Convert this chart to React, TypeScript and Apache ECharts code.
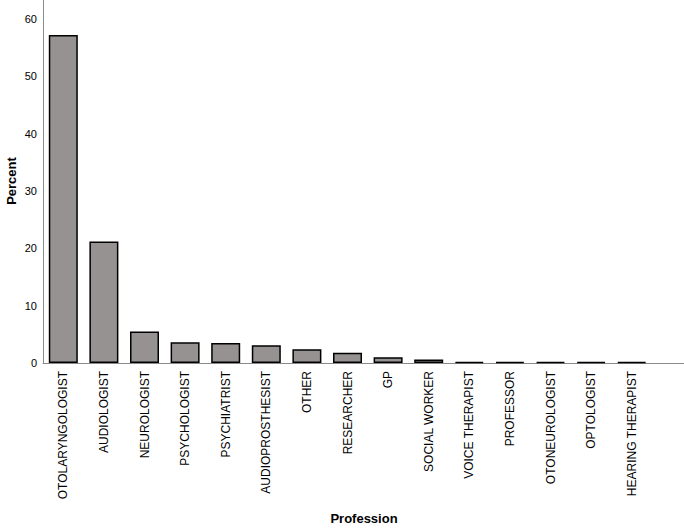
import React, { useEffect, useRef } from "react";
import * as echarts from "echarts";

const categories = [
  "OTOLARYNGOLOGIST",
  "AUDIOLOGIST",
  "NEUROLOGIST",
  "PSYCHOLOGIST",
  "PSYCHIATRIST",
  "AUDIOPROSTHESIST",
  "OTHER",
  "RESEARCHER",
  "GP",
  "SOCIAL WORKER",
  "VOICE THERAPIST",
  "PROFESSOR",
  "OTONEUROLOGIST",
  "OPTOLOGIST",
  "HEARING THERAPIST",
];
const percents = [57.2, 21.2, 5.5, 3.6, 3.5, 3.1, 2.4, 1.8, 1.0, 0.6, 0.2, 0.2, 0.2, 0.2, 0.2];
const yTicks = [0, 10, 20, 30, 40, 50, 60];
const xTitle = "Profession";
const yTitle = "Percent";

const titleFont = "Liberation Sans Narrow, Liberation Sans, Arial";

export default function App() {
  const ref = useRef<HTMLDivElement>(null);
  useEffect(() => {
    const chart = echarts.init(ref.current!, null, { renderer: "svg" });
    chart.setOption({
      animation: false,
      backgroundColor: "#ffffff",
      grid: { left: 43, right: 32, top: 0, bottom: 168, containLabel: false, outerBoundsMode: "none" },
      xAxis: {
        type: "category",
        data: categories,
        axisLine: { lineStyle: { color: "#8a8a8a", width: 1 } },
        axisTick: { show: false },
        axisLabel: {
          rotate: 90,
          margin: 8,
          fontFamily: "Liberation Sans, Arial",
          fontSize: 12,
          color: "#000",
          interval: 0,
        },
      },
      yAxis: {
        type: "value",
        min: 0,
        max: 63.3,
        interval: 10,
        axisLine: { show: true, lineStyle: { color: "#8a8a8a", width: 1 } },
        axisTick: { show: false },
        splitLine: { show: false },
        axisLabel: {
          margin: 6,
          showMaxLabel: false,
          fontFamily: titleFont,
          fontSize: 11,
          color: "#000",
          formatter: (v: number) => (yTicks.includes(v) ? String(v) : ""),
        },
      },
      graphic: [
        {
          type: "line",
          shape: { x1: 652, y1: 363.5, x2: 684, y2: 363.5 },
          style: { stroke: "#8a8a8a", lineWidth: 1 },
        },
        {
          type: "text",
          x: 364,
          y: 518,
          style: {
            text: xTitle,
            fontFamily: titleFont,
            fontWeight: "bold",
            fontSize: 13,
            fill: "#000",
            align: "center",
            verticalAlign: "middle",
          },
        },
        {
          type: "text",
          x: 11,
          y: 181,
          rotation: Math.PI / 2,
          style: {
            text: yTitle,
            fontFamily: titleFont,
            fontWeight: "bold",
            fontSize: 13,
            fill: "#000",
            align: "center",
            verticalAlign: "middle",
          },
        },
      ],
      series: [
        {
          type: "bar",
          data: percents,
          barWidth: 29,
          itemStyle: { color: "#969291", borderColor: "#000", borderWidth: 1.5 },
        },
      ],
    });
    return () => chart.dispose();
  }, []);
  return (
    <div
      ref={ref}
      style={{ position: "absolute", left: 0, top: 0, width: 684, height: 531 }}
    />
  );
}
